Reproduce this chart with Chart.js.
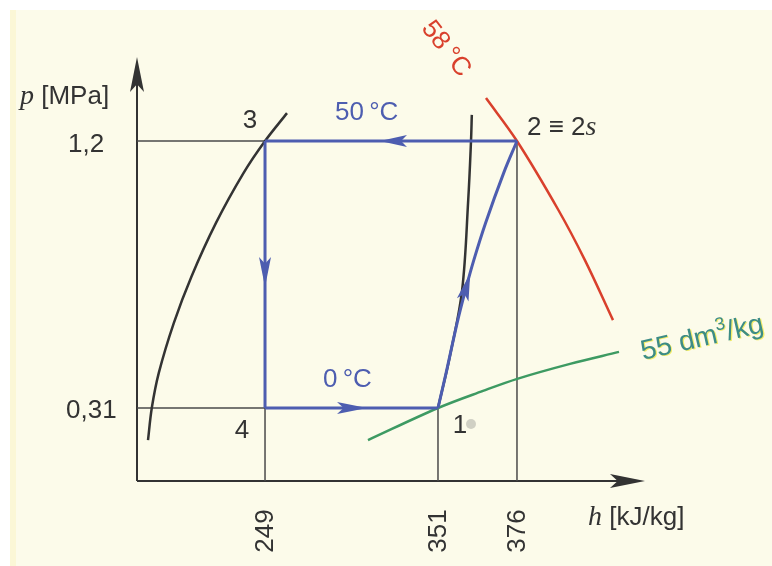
<!DOCTYPE html>
<html>
<head>
<meta charset="utf-8">
<script src="https://cdn.jsdelivr.net/npm/chart.js@4"></script>
<style>
  html, body { margin: 0; padding: 0; background: #ffffff; }
  canvas { display: block; }
</style>
</head>
<body>
<canvas id="phChart" width="772" height="566"></canvas>
<script>
// ------------------------------
// DATA (x = position along h axis, diagram units 0..100; y = p in MPa)
// ------------------------------

const hTickPos = [25.2, 59.25, 74.8];
const hTickLabels = ["249", "351", "376"];
const pTickVals = [1.2, 0.31];
const pTickLabels = ["1,2", "0,31"];

// states 1..4
const stateX = [59.25, 74.8, 25.2, 25.2];
const stateP = [0.31, 1.2, 1.2, 0.31];

// saturated liquid line
const liquidX = [2.17, 2.91, 4.29, 7.24, 10.69, 15.55, 20.96, 25.2, 29.53];
const liquidP = [0.203, 0.31, 0.427, 0.593, 0.747, 0.927, 1.093, 1.2, 1.293];

// saturated vapour line
const vaporX = [59.25, 61.56, 64.0, 65.2, 65.75, 65.91];
const vaporP = [0.31, 0.48, 0.703, 1.003, 1.2, 1.287];

// compression 1 -> 2
const compX = [59.25, 60.85, 63.01, 64.65, 66.3, 68.62, 72.17, 74.8];
const compP = [0.31, 0.427, 0.593, 0.703, 0.803, 0.927, 1.093, 1.2];

// isotherm 58 °C
const iso58X = [68.7, 74.8, 82.95, 88.17, 93.7];
const iso58P = [1.343, 1.2, 0.97, 0.803, 0.603];

// isochore 55 dm3/kg
const iso55X = [45.47, 59.25, 68.11, 75.0, 85.24, 94.88];
const iso55P = [0.203, 0.31, 0.367, 0.408, 0.457, 0.497];

const X_MIN = 0, X_MAX = 100;
const P_MIN = 0.0667, P_MAX = 1.48;

// ------------------------------
// HELPERS
// ------------------------------

function zip(xs, ys) {
  return xs.map((x, i) => ({ x: x, y: ys[i] }));
}

function lineSet(points, color, width) {
  return {
    data: points,
    showLine: true,
    borderColor: color,
    borderWidth: width,
    pointRadius: 0,
    tension: 0.35,
    fill: false,
    clip: false
  };
}

function straight(points, color, width) {
  const ds = lineSet(points, color, width);
  ds.tension = 0;
  return ds;
}

const BLUE = "#4d5db0";
const RED = "#d9402c";
const GREEN = "#3d9a62";
const INK = "#333333";
const GRID = "#4a4a4a";

// cycle pieces
const s = zip(stateX, stateP);
const cycle23 = [s[1], s[2]];
const cycle34 = [s[2], s[3]];
const cycle41 = [s[3], s[0]];

// guide lines from the axes to the state points
const guideLines = [
  [{ x: X_MIN, y: pTickVals[0] }, s[2]],
  [{ x: X_MIN, y: pTickVals[1] }, s[3]],
  [{ x: hTickPos[0], y: P_MIN }, s[2]],
  [{ x: hTickPos[1], y: P_MIN }, s[0]],
  [{ x: hTickPos[2], y: P_MIN }, s[1]]
];

const datasets = [
  straight(cycle23, BLUE, 3),
  straight(cycle34, BLUE, 3),
  straight(cycle41, BLUE, 3),
  lineSet(zip(compX, compP), BLUE, 3),
  lineSet(zip(iso58X, iso58P), RED, 2.5),
  lineSet(zip(iso55X, iso55P), GREEN, 2.5),
  lineSet(zip(liquidX, liquidP), INK, 2.5),
  lineSet(zip(vaporX, vaporP), INK, 2.5),
  ...guideLines.map((g) => straight(g, GRID, 1.5)),
  straight([{ x: X_MIN, y: P_MIN }, { x: X_MAX - 3, y: P_MIN }], INK, 2),
  straight([{ x: X_MIN, y: P_MIN }, { x: X_MIN, y: P_MAX - 0.05 }], INK, 2)
];

// ------------------------------
// PLUGINS
// ------------------------------

const backgroundPlugin = {
  id: "paper",
  beforeDraw(chart) {
    const c = chart.ctx;
    c.save();
    c.fillStyle = "#ffffff";
    c.fillRect(0, 0, chart.width, chart.height);
    c.fillStyle = "#fcfbea";
    c.fillRect(10, 10, chart.width - 10, chart.height - 10);
    c.fillStyle = "#fbf7d6";
    c.fillRect(10, 10, 6, chart.height - 10);
    c.restore();
  }
};

function drawArrow(c, tx, ty, dx, dy, len, half, color) {
  const n = Math.hypot(dx, dy);
  const ux = dx / n, uy = dy / n;
  const bx = tx - ux * len, by = ty - uy * len;
  const nx = -uy, ny = ux;
  c.beginPath();
  c.moveTo(tx, ty);
  c.lineTo(bx + nx * half, by + ny * half);
  c.lineTo(tx - ux * len * 0.78, ty - uy * len * 0.78);
  c.lineTo(bx - nx * half, by - ny * half);
  c.closePath();
  c.fillStyle = color;
  c.fill();
}

function text(c, str, x, y, font, color, align) {
  c.font = font;
  c.fillStyle = color;
  c.textAlign = align || "left";
  c.fillText(str, x, y);
}

const SANS = '26px "Liberation Sans", Arial, sans-serif';
const SERIF_I = 'italic 28px "Liberation Serif", "Times New Roman", serif';

const annotationsPlugin = {
  id: "annotations",
  afterDatasetsDraw(chart) {
    const c = chart.ctx;
    const xs = chart.scales.x, ys = chart.scales.y;
    const px = (v) => xs.getPixelForValue(v);
    const py = (v) => ys.getPixelForValue(v);
    c.save();
    c.textBaseline = "alphabetic";

    // axis arrows
    drawArrow(c, px(X_MAX), py(P_MIN), 1, 0, 35, 7, INK);
    drawArrow(c, px(X_MIN), py(P_MAX), 0, -1, 35, 7, INK);

    // cycle arrows
    drawArrow(c, px(47.83), py(1.2), -1, 0, 27, 6, BLUE);
    drawArrow(c, px(25.2), py(0.713), 0, 1, 30, 6, BLUE);
    drawArrow(c, px(45.28), py(0.31), 1, 0, 30, 6, BLUE);
    drawArrow(c, px(65.6), py(0.76),
      px(compX[4]) - px(compX[3]), py(compP[4]) - py(compP[3]), 28, 6, BLUE);

    // axis titles
    text(c, "p", 20, 104, SERIF_I, INK);
    c.font = SERIF_I;
    let w = c.measureText("p").width;
    text(c, " [MPa]", 20 + w, 104, SANS, INK);

    text(c, "h", 588, 525, SERIF_I, INK);
    c.font = SERIF_I;
    w = c.measureText("h").width;
    text(c, " [kJ/kg]", 588 + w, 525, SANS, INK);

    // p ticks
    text(c, pTickLabels[0], 68, py(pTickVals[0]) + 11, SANS, INK);
    text(c, pTickLabels[1], 66, py(pTickVals[1]) + 10, SANS, INK);

    // h ticks (rotated)
    hTickPos.forEach((v, i) => {
      c.save();
      c.translate(px(v), 531);
      c.rotate(-Math.PI / 2);
      c.font = SANS;
      c.fillStyle = INK;
      c.textAlign = "center";
      c.textBaseline = "middle";
      c.fillText(hTickLabels[i], 0, 1);
      c.restore();
    });

    // state labels
    text(c, "3", px(stateX[2]) - 15, py(stateP[2]) - 13, SANS, INK, "center");
    text(c, "4", px(stateX[3]) - 23, py(stateP[3]) + 30, SANS, INK, "center");
    text(c, "1", px(stateX[0]) + 22, py(stateP[0]) + 25, SANS, INK, "center");
    c.fillStyle = "rgba(190,190,180,0.7)";
    c.beginPath();
    c.arc(px(stateX[0]) + 33, py(stateP[0]) + 16, 5, 0, Math.PI * 2);
    c.fill();

    c.font = SANS;
    text(c, "2 \u2261 2", px(stateX[1]) + 10, py(stateP[1]) - 6, SANS, INK);
    w = c.measureText("2 \u2261 2").width;
    text(c, "s", px(stateX[1]) + 10 + w, py(stateP[1]) - 6, SERIF_I, INK);

    // temperatures
    text(c, "50\u2009\u00b0C", 335, py(1.2) - 21, SANS, BLUE);
    text(c, "0\u2009\u00b0C", 323, py(0.31) - 21, SANS, BLUE);

    c.save();
    c.translate(446, 49);
    c.rotate(52 * Math.PI / 180);
    c.font = SANS;
    c.fillStyle = RED;
    c.textAlign = "center";
    c.textBaseline = "middle";
    c.fillText("58\u2009\u00b0C", 0, 0);
    c.restore();

    // isochore label
    c.save();
    c.translate(643, 360);
    c.rotate(-13 * Math.PI / 180);
    const big = '28px "Liberation Sans", Arial, sans-serif';
    const parts = [["55 dm", big, 0], ["3", '18px "Liberation Sans", Arial, sans-serif', -12], ["/kg", big, 0]];
    let cx = 0;
    parts.forEach((p) => {
      c.font = p[1];
      c.fillStyle = "#f3ec6a";
      c.fillText(p[0], cx + 1, p[2] + 1);
      c.fillStyle = "#3d8c86";
      c.fillText(p[0], cx, p[2]);
      cx += c.measureText(p[0]).width;
    });
    c.restore();

    c.restore();
  }
};

// ------------------------------
// RENDER
// ------------------------------

const canvas = document.getElementById("phChart");
new Chart(canvas.getContext("2d"), {
  type: "scatter",
  data: { datasets: datasets },
  options: {
    responsive: false,
    animation: false,
    layout: { padding: { left: 137, right: 127, top: 57, bottom: 85 } },
    scales: {
      x: { type: "linear", min: X_MIN, max: X_MAX, display: false },
      y: { type: "linear", min: P_MIN, max: P_MAX, display: false }
    },
    plugins: {
      legend: { display: false },
      tooltip: { enabled: false }
    },
    elements: { point: { radius: 0 } }
  },
  plugins: [backgroundPlugin, annotationsPlugin]
});
</script>
</body>
</html>
